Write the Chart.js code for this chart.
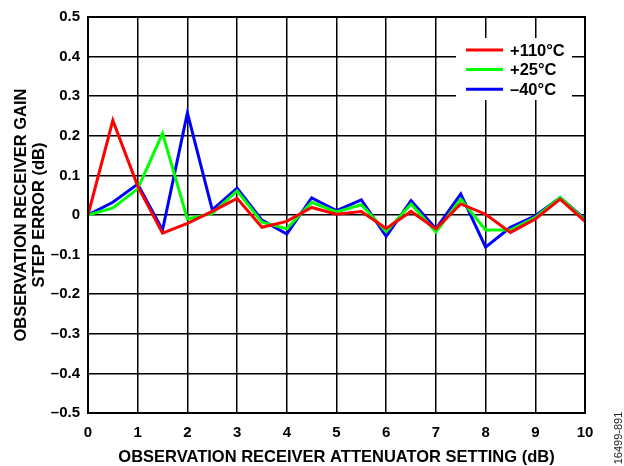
<!DOCTYPE html>
<html>
<head>
<meta charset="utf-8">
<script src="https://cdn.jsdelivr.net/npm/chart.js@4.4.0/dist/chart.umd.min.js"></script>
<style>
  html, body { margin: 0; padding: 0; background: #fff; }
  #wrap { position: relative; width: 624px; height: 466px; }
</style>
</head>
<body>
<div id="wrap"><canvas id="chart"></canvas></div>
<script>
// attenuator setting (dB)
var steps = [0, 0.5, 1, 1.5, 2, 2.5, 3, 3.5, 4, 4.5, 5, 5.5, 6, 6.5, 7, 7.5, 8, 8.5, 9, 9.5, 10];
// gain step error (dB)
var hot = [0, 0.239, 0.073, -0.046, -0.021, 0.009, 0.042, -0.031, -0.016, 0.019, 0.002, 0.009, -0.034, 0.009, -0.035, 0.028, 0.002, -0.044, -0.010, 0.040, -0.016];
var room = [0, 0.018, 0.066, 0.206, -0.010, 0.004, 0.061, -0.018, -0.035, 0.032, 0.008, 0.026, -0.042, 0.028, -0.043, 0.040, -0.038, -0.038, -0.006, 0.044, -0.013];
var cold = [0, 0.032, 0.078, -0.038, 0.258, 0.013, 0.068, -0.013, -0.048, 0.043, 0.011, 0.038, -0.054, 0.036, -0.035, 0.053, -0.081, -0.031, -0.002, 0.044, -0.010];
var labels = ['+110°C', '+25°C', '\u201340°C'];
var colors = ['#ff0000', '#00ff00', '#0000ff'];

function pts(arr) {
    return arr.map(function(v, i) { return { x: steps[i], y: v }; });
}

var FAM = 'Liberation Sans, Arial, sans-serif';
var tickFont = { family: FAM, weight: 'bold', size: 15 };
var titleFont = { family: FAM, weight: 'bold', size: 16.5, lineHeight: 1.05 };

// frame + legend box + figure number
var extras = {
    id: 'extras',
    afterDatasetsDraw: function(chart) {
        var ctx = chart.ctx, a = chart.chartArea;
        ctx.save();
        ctx.strokeStyle = '#000';
        ctx.lineWidth = 2;
        ctx.strokeRect(a.left, a.top, a.right - a.left, a.bottom - a.top);

        // legend
        ctx.fillStyle = '#fff';
        ctx.fillRect(456, 38, 116, 62);
        ctx.font = 'bold 16.5px ' + FAM;
        ctx.textBaseline = 'middle';
        chart.data.datasets.forEach(function(ds, i) {
            var y = 50 + i * 19.6;
            ctx.strokeStyle = ds.borderColor;
            ctx.lineWidth = 3;
            ctx.beginPath();
            ctx.moveTo(466, y);
            ctx.lineTo(503, y);
            ctx.stroke();
            ctx.fillStyle = '#000';
            ctx.fillText(ds.label, 510, y + 1);
        });

        // figure id
        ctx.translate(619, 438);
        ctx.rotate(-Math.PI / 2);
        ctx.font = '11px ' + FAM;
        ctx.fillStyle = '#222';
        ctx.textAlign = 'center';
        ctx.fillText('16499-891', 0, 0);
        ctx.restore();
    }
};

new Chart(document.getElementById('chart'), {
    type: 'line',
    data: {
        datasets: [hot, room, cold].map(function(arr, i) {
            return {
                label: labels[i],
                data: pts(arr),
                borderColor: colors[i],
                borderWidth: 3,
                pointRadius: 0,
                tension: 0,
                fill: false
            };
        })
    },
    options: {
        responsive: true,
        maintainAspectRatio: false,
        animation: false,
        layout: { padding: { left: 0, right: 39, top: 14, bottom: 0 } },
        plugins: { legend: { display: false }, tooltip: { enabled: false } },
        scales: {
            x: {
                type: 'linear',
                min: 0,
                max: 10,
                ticks: { stepSize: 1, color: '#000', font: tickFont, padding: 11 },
                grid: { color: '#000', lineWidth: 1.5, drawTicks: false },
                border: { display: false },
                title: {
                    display: true,
                    text: 'OBSERVATION RECEIVER ATTENUATOR SETTING (dB)',
                    color: '#000',
                    font: titleFont,
                    padding: { top: 2, bottom: 0 }
                },
                afterFit: function(s) { s.height = 53; }
            },
            y: {
                min: -0.5,
                max: 0.5,
                ticks: {
                    stepSize: 0.1,
                    color: '#000',
                    font: tickFont,
                    padding: 8,
                    callback: function(v) {
                        var r = Math.round(v * 10) / 10;
                        if (r === 0) return '0';
                        return (r < 0 ? '\u2013' : '') + Math.abs(r).toFixed(1);
                    }
                },
                grid: { color: '#000', lineWidth: 1.5, drawTicks: false },
                border: { display: false },
                title: {
                    display: true,
                    text: ['OBSERVATION RECEIVER GAIN', 'STEP ERROR (dB)'],
                    color: '#000',
                    font: titleFont,
                    padding: { top: 13, bottom: 4 }
                },
                afterFit: function(s) { s.width = 88; }
            }
        }
    },
    plugins: [extras]
});
</script>
</body>
</html>
